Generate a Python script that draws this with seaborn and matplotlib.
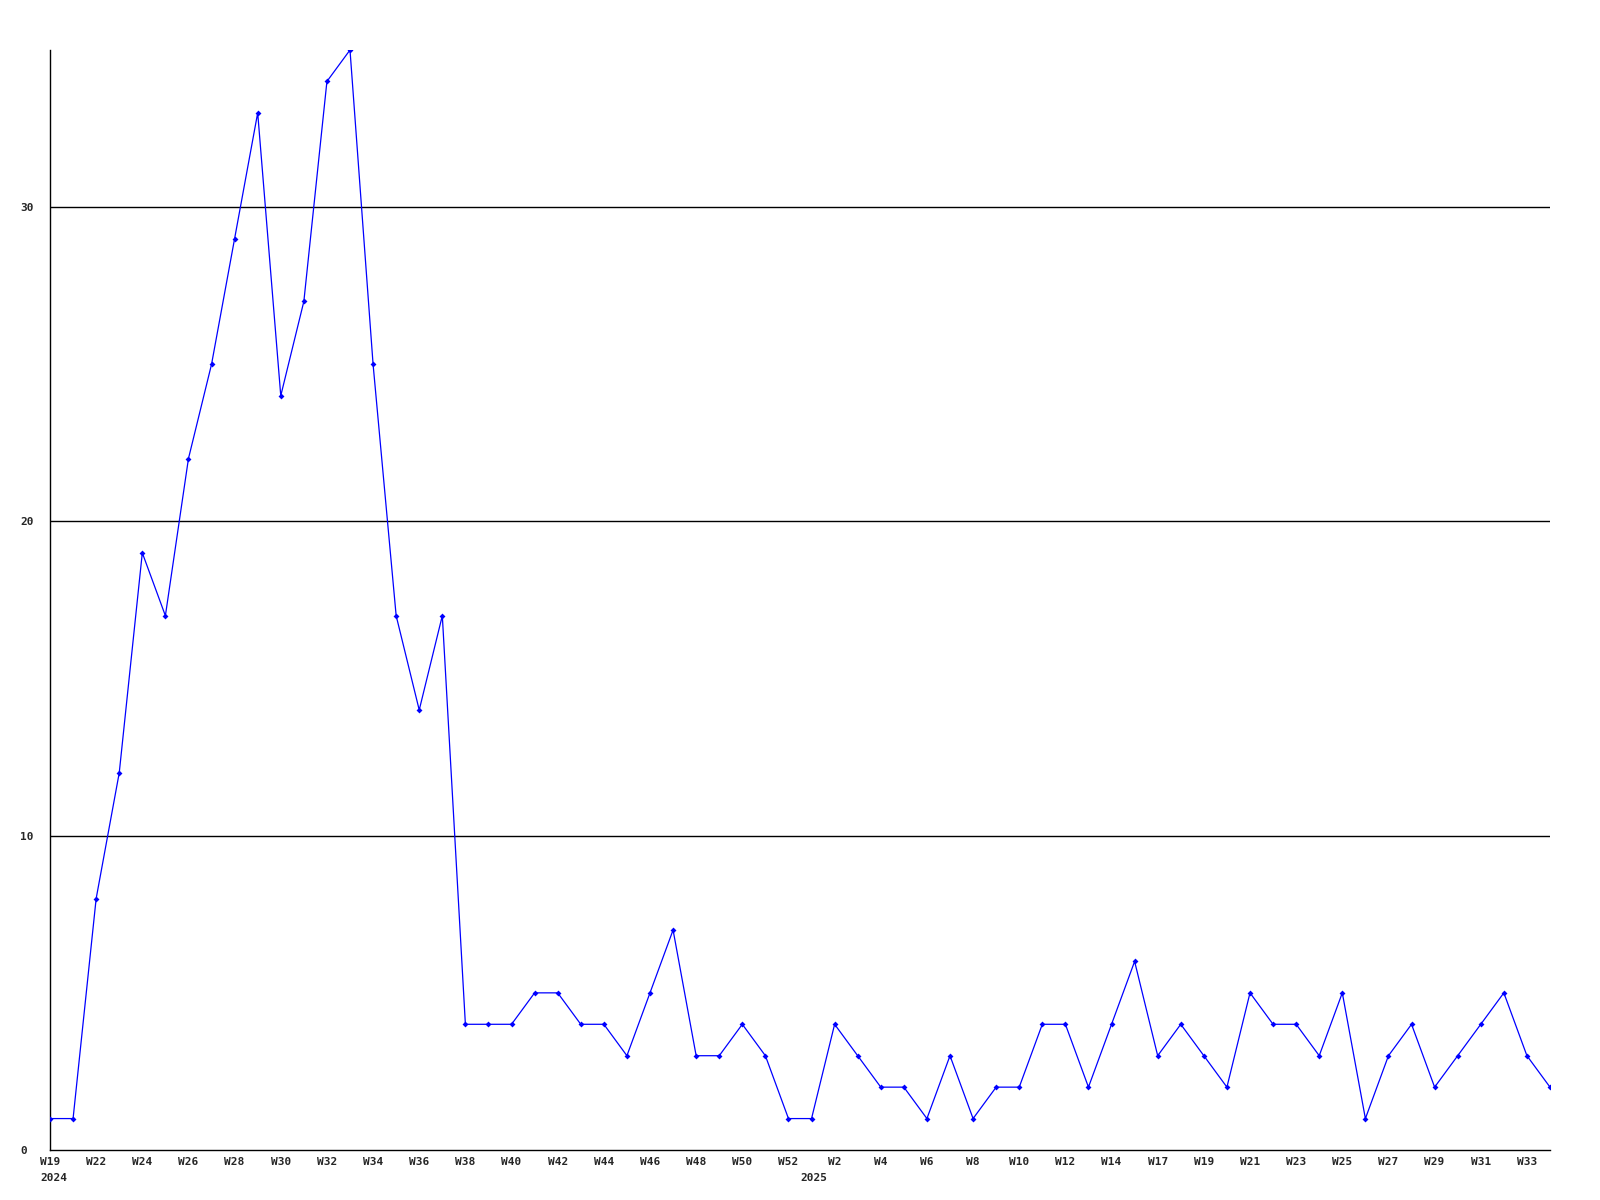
import pandas as pd
import numpy as np
import matplotlib
matplotlib.use('Agg')
import matplotlib.pyplot as plt
import matplotlib.transforms as mtransforms
import seaborn as sns

# weekly counts, W19 2024 .. W34 2025
weeks_2024 = [19, 20, 22, 23, 24, 25, 26, 27, 28, 29, 30, 31, 32, 33, 34, 35, 36,
              37, 38, 39, 40, 41, 42, 43, 44, 45, 46, 47, 48, 49, 50, 51, 52]
weeks_2025 = [1, 2, 3, 4, 5, 6, 7, 8, 9, 10, 11, 12, 13, 14, 15, 17, 18, 19, 20,
              21, 22, 23, 24, 25, 26, 27, 28, 29, 30, 31, 32, 33, 34]
counts = [1, 1, 8, 12, 19, 17, 22, 25, 29, 33,
          24, 27, 34, 35, 25, 17, 14, 17, 4, 4,
          4, 5, 5, 4, 4, 3, 5, 7, 3, 3,
          4, 3, 1, 1, 4, 3, 2, 2, 1, 3,
          1, 2, 2, 4, 4, 2, 4, 6, 3, 4,
          3, 2, 5, 4, 4, 3, 5, 1, 3, 4,
          2, 3, 4, 5, 3, 2]
y_ticks = [0, 10, 20, 30]

labels = ['W%d' % w for w in weeks_2024] + ['W%d' % w for w in weeks_2025]
df = pd.DataFrame({'idx': np.arange(len(counts)), 'count': counts, 'week': labels})

sns.set_style('white')
plt.rcParams['font.family'] = ['DejaVu Sans Mono']

fig = plt.figure(figsize=(16, 12), dpi=100)
ax = fig.add_axes([50 / 1600, 50 / 1200, 1500 / 1600, 1100 / 1200])

for y in y_ticks[1:]:
    ax.axhline(y, color='black', lw=1.0, zorder=1)

sns.lineplot(data=df, x='idx', y='count', ax=ax, color='#0000ff', lw=0.9,
             marker='D', markersize=3, markeredgewidth=0, zorder=3)

ax.set_xlim(0, len(counts) - 1)
ax.set_ylim(0, 35)

tick_pos = df['idx'][::2]
ax.set_xticks(tick_pos)
ax.set_xticklabels(df['week'][::2], fontsize=8, fontweight='bold')
ax.set_yticks(y_ticks)
ax.set_yticklabels([str(v) for v in y_ticks], fontsize=8, fontweight='bold')
for t in ax.get_yticklabels():
    t.set_horizontalalignment('left')
ax.tick_params(axis='y', length=0, pad=21.6)
ax.tick_params(axis='x', length=0, pad=5)

# year labels under the first week of each year
trans = mtransforms.blended_transform_factory(ax.transData, ax.transAxes)
ax.text(0.15, -0.0205, '2024', transform=trans, fontsize=8, fontweight='bold',
        ha='center', va='top')
ax.text(len(weeks_2024) + 0.1, -0.0205, '2025', transform=trans, fontsize=8,
        fontweight='bold', ha='center', va='top')

ax.set_xlabel('')
ax.set_ylabel('')
for s in ['top', 'right']:
    ax.spines[s].set_visible(False)
for s in ['left', 'bottom']:
    ax.spines[s].set_color('black')
    ax.spines[s].set_linewidth(1.0)

fig.savefig('out.png', dpi=100, facecolor='white')
